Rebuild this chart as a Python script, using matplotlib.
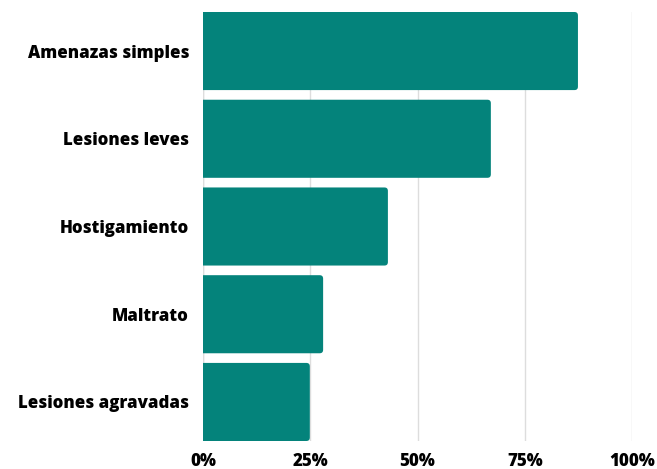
import matplotlib
matplotlib.use("Agg")
import matplotlib.pyplot as plt
from matplotlib.ticker import FuncFormatter
from matplotlib.patches import FancyBboxPatch

categories = ["Amenazas simples", "Lesiones leves", "Hostigamiento", "Maltrato", "Lesiones agravadas"]
values = [87.4, 67.1, 43.1, 28.0, 24.9]
xticks = [0, 25, 50, 75, 100]

bar_color = "#04837b"

plt.rcParams['font.family'] = ['Open Sans', 'DejaVu Sans']

fig = plt.figure(figsize=(6.57, 4.69), dpi=100)
ax = fig.add_axes([203/657, 1 - 441/469, 429/657, 429/469])

ypos = list(range(len(categories)))[::-1]
bars = ax.barh(ypos, values, height=0.89, color=bar_color, zorder=2)

ax.set_xlim(0, 100)
ax.set_ylim(-0.445, 4.445)

# swap plain bars for ones with rounded ends (left end hidden past x=0)
px_x = 429 / 100.0
px_y = 429 / 4.89
for b in bars:
    x0, y0 = b.get_x(), b.get_y()
    w, h = b.get_width(), b.get_height()
    rb = FancyBboxPatch((x0 - 2, y0), w + 2, h,
                        boxstyle="round,pad=0,rounding_size=0.8",
                        mutation_aspect=px_x / px_y,
                        facecolor=bar_color, edgecolor="none", zorder=2)
    ax.add_patch(rb)
    b.set_visible(False)

ax.set_xticks(xticks)
ax.xaxis.set_major_formatter(FuncFormatter(lambda v, p: f"{int(v)}%"))
ax.set_yticks(ypos)
ax.set_yticklabels(categories)

for lab in ax.get_xticklabels() + ax.get_yticklabels():
    lab.set_fontweight(800)
    lab.set_fontsize(12.2)
    lab.set_color("black")

ax.tick_params(axis="both", length=0)
ax.tick_params(axis="x", pad=8.5)
ax.tick_params(axis="y", pad=10)
ax.grid(axis="x", color="#dddddd", linewidth=1, zorder=0)
for s in ax.spines.values():
    s.set_visible(False)
ax.axvline(0, color="#dddddd", linewidth=1, zorder=1)

fig.savefig("out.png", dpi=100)
